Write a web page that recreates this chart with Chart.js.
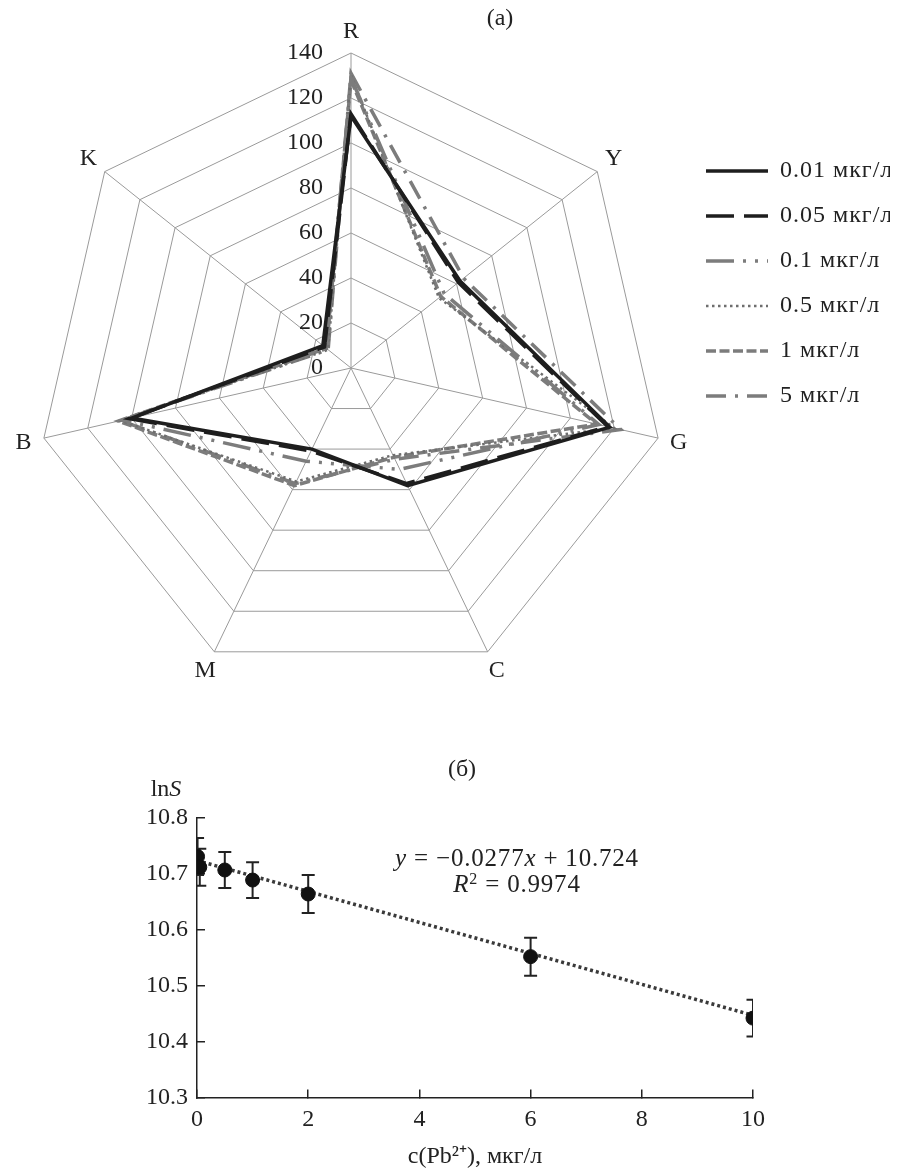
<!DOCTYPE html>
<html><head><meta charset="utf-8">
<script src="https://cdn.jsdelivr.net/npm/chart.js@4/dist/chart.umd.min.js"></script>
<style>
html,body{margin:0;padding:0;background:#fff;}
body{width:903px;height:1174px;position:relative;overflow:hidden;font-family:'Liberation Serif','Times New Roman',serif;color:#222;}
#wrapA{position:absolute;left:0;top:0;width:903px;height:728px;}
#wrapB{position:absolute;left:0;top:740px;width:903px;height:434px;}
.lbl{position:absolute;font-size:24px;line-height:1;white-space:nowrap;transform:translate(-50%,-50%);}
.eq{font-size:25px;letter-spacing:0.8px;}
.lbl sup{font-size:16px;line-height:0;vertical-align:0.5em;}
</style></head><body>
<div id="wrapA"><canvas id="radar" width="903" height="728"></canvas></div>
<div id="wrapB"><canvas id="scatter" width="903" height="434"></canvas></div>
<div class="lbl" style="left:500px;top:17px">(a)</div>
<div class="lbl" style="left:462px;top:768px">(б)</div>
<div class="lbl" style="left:166px;top:788px">ln<i>S</i></div>
<div class="lbl eq" style="left:517px;top:857px"><i>y</i> = −0.0277<i>x</i> + 10.724</div>
<div class="lbl eq" style="left:517px;top:883px"><i>R</i><sup>2</sup> = 0.9974</div>
<script>
// ---------- (a) radar data ----------
const radarAxes = ['R', 'Y', 'G', 'C', 'M', 'B', 'K'];
const radarTicks = [0, 20, 40, 60, 80, 100, 120, 140];
const seriesLabels = ['0.01 мкг/л', '0.05 мкг/л', '0.1 мкг/л', '0.5 мкг/л', '1 мкг/л', '5 мкг/л'];
const s001 = [112, 62, 118, 58, 40, 100, 16];
const s005 = [113, 61, 117, 57, 41, 101, 15];
const s01  = [129, 53, 113, 50, 46, 104, 14];
const s05  = [130, 50, 120, 43, 56, 105, 13];
const s1   = [128, 51, 112, 44, 58, 106, 14];
const s5   = [131, 64, 123, 45, 57, 105, 13];

// ---------- (б) scatter data ----------
const concX  = [0.01, 0.05, 0.5, 1, 2, 6, 10];
const lnS    = [10.731, 10.712, 10.707, 10.689, 10.664, 10.552, 10.442];
const lnSErr = [0.033, 0.033, 0.032, 0.032, 0.034, 0.034, 0.033];
const trendX = [0, 10];
const trendY = [10.724, 10.447];

const SERIF = "'Liberation Serif', 'Times New Roman', serif";
Chart.defaults.font.family = SERIF;
Chart.defaults.color = '#222';

const styles = [
  {c: '#1e1e1e', w: 3.5, d: []},
  {c: '#1e1e1e', w: 3.5, d: [28, 10]},
  {c: '#7c7c7c', w: 3.5, d: [28, 9, 3, 9, 3, 9]},
  {c: '#6e6e6e', w: 2.5, d: [2.5, 3.5]},
  {c: '#7c7c7c', w: 3.5, d: [10, 3.5]},
  {c: '#7c7c7c', w: 3.5, d: [20, 9, 3, 9]}
];
const seriesValues = [s001, s005, s01, s05, s1, s5];

// tick values written left of the vertical axis, axis names just outside each vertex
const radarTextPlugin = {
  id: 'radarText',
  beforeDraw(chart) { chart.ctx.letterSpacing = '1px'; },
  beforeDatasetsDraw(chart) {
    const s = chart.scales.r;
    const ctx = chart.ctx;
    ctx.save();
    ctx.letterSpacing = '0px';
    ctx.font = '24px ' + SERIF;
    ctx.fillStyle = '#222';
    ctx.textAlign = 'right';
    ctx.textBaseline = 'middle';
    radarTicks.forEach(v => {
      ctx.fillText(String(v), s.xCenter - 28, s.yCenter - s.getDistanceFromCenterForValue(v));
    });
    ctx.textAlign = 'center';
    chart.data.labels.forEach((lab, i) => {
      const p = s.getPointPosition(i, s.drawingArea + 21);
      ctx.fillText(lab, p.x, p.y);
    });
    ctx.restore();
  }
};

new Chart(document.getElementById('radar'), {
  type: 'radar',
  data: {
    labels: radarAxes,
    datasets: seriesValues.map((vals, i) => ({
      label: seriesLabels[i],
      data: vals,
      borderColor: styles[i].c,
      backgroundColor: styles[i].c,
      borderWidth: styles[i].w,
      borderDash: styles[i].d,
      fill: false,
      tension: 0,
      pointRadius: 0,
      pointHoverRadius: 0
    }))
  },
  options: {
    responsive: false,
    animation: false,
    layout: {padding: {left: 17, right: 13, top: 53, bottom: 45}},
    scales: {
      r: {
        min: 0, max: 140,
        ticks: {stepSize: 20, display: false},
        grid: {color: '#9a9a9a', lineWidth: 1},
        angleLines: {color: '#9a9a9a', lineWidth: 1},
        pointLabels: {display: false}
      }
    },
    plugins: {
      tooltip: {enabled: false},
      legend: {
        position: 'right',
        align: 'start',
        maxWidth: 205,
        title: {display: true, text: '', padding: {top: 73, bottom: 0}, font: {size: 10}},
        labels: {
          usePointStyle: true,
          pointStyle: 'line',
          pointStyleWidth: 62,
          padding: 21,
          font: {size: 24, family: SERIF},
          color: '#222',
          generateLabels: chart => chart.data.datasets.map((ds, i) => ({
            text: ds.label,
            strokeStyle: ds.borderColor,
            fillStyle: ds.borderColor,
            lineWidth: ds.borderWidth,
            lineDash: ds.borderDash,
            lineCap: 'butt',
            pointStyle: 'line',
            hidden: false,
            datasetIndex: i,
            fontColor: '#222'
          }))
        }
      }
    }
  },
  plugins: [radarTextPlugin]
});

// ---------- (б) ----------
const errDatasets = concX.map((x, i) => ({
  label: 'err' + i,
  data: [{x: x, y: lnS[i] - lnSErr[i]}, {x: x, y: lnS[i] + lnSErr[i]}],
  showLine: true,
  borderColor: '#222',
  borderWidth: 2,
  pointStyle: 'line',
  pointRadius: 6.5,
  pointBorderWidth: 2,
  pointBorderColor: '#222',
  pointHoverRadius: 6.5,
  clip: 0
}));

new Chart(document.getElementById('scatter'), {
  type: 'scatter',
  data: {
    datasets: [
      {
        label: 'lnS',
        data: concX.map((x, i) => ({x: x, y: lnS[i]})),
        pointRadius: 7,
        pointHoverRadius: 7,
        backgroundColor: '#111',
        borderColor: '#111'
      },
      {
        label: 'trend',
        data: trendX.map((x, i) => ({x: x, y: trendY[i]})),
        showLine: true,
        pointRadius: 0,
        borderColor: '#3a3a3a',
        borderWidth: 3.5,
        borderDash: [3, 3],
        borderCapStyle: 'butt'
      },
      ...errDatasets
    ]
  },
  options: {
    responsive: false,
    animation: false,
    layout: {padding: {left: 0, right: 150, top: 78, bottom: 0}},
    plugins: {legend: {display: false}, tooltip: {enabled: false}},
    scales: {
      x: {
        type: 'linear', min: 0, max: 10,
        afterFit: s => { s.height = 76.5; },
        ticks: {stepSize: 2, font: {size: 24}, color: '#222', padding: 16, maxRotation: 0},
        grid: {display: true, drawOnChartArea: false, drawTicks: true, tickLength: -8, color: '#222', lineWidth: 1.5},
        border: {display: true, color: '#222', width: 1.5},
        title: {display: true, text: 'c(Pb²⁺), мкг/л', font: {size: 24}, color: '#222', padding: {top: 0, bottom: 3}}
      },
      y: {
        type: 'linear', min: 10.3, max: 10.8,
        afterFit: s => { s.width = 197; },
        ticks: {stepSize: 0.1, font: {size: 24}, color: '#222', padding: 17, callback: v => Number(v).toFixed(1)},
        grid: {display: true, drawOnChartArea: false, drawTicks: true, tickLength: -8, color: '#222', lineWidth: 1.5},
        border: {display: true, color: '#222', width: 1.5}
      }
    }
  }
});
</script>
</body></html>
